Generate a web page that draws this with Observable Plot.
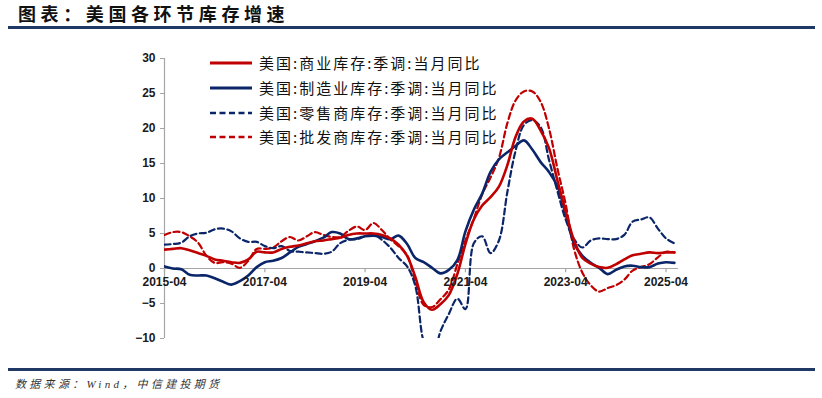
<!DOCTYPE html>
<html><head><meta charset="utf-8">
<script src="https://cdn.jsdelivr.net/npm/d3@7"></script>
<script src="https://cdn.jsdelivr.net/npm/@observablehq/plot@0.6"></script>
<style>
html,body{margin:0;padding:0;background:#fff}
body{width:822px;height:398px;position:relative;overflow:hidden;font-family:"Noto Sans CJK SC",sans-serif}
#chart{position:absolute;left:0;top:0}
#title{position:absolute;left:18px;top:0px;font-size:18px;line-height:26px;letter-spacing:4.6px;font-weight:bold;color:#111}
.rule{position:absolute;left:8px;width:807px;height:3px;background:#1F3864}
#caption{position:absolute;left:15px;top:376px;font-size:11px;line-height:16px;letter-spacing:3.3px;font-style:italic;color:#333;font-family:"Liberation Serif","Noto Sans CJK SC",serif}
#legend{position:absolute;left:210px;top:51px}
.item{display:flex;align-items:center;height:24.7px}
.item svg{width:43px;height:6px;margin-right:6px}
.item span{font-size:15px;letter-spacing:2px;color:#111;line-height:20px}
</style></head>
<body>
<div id="chart"></div>
<div id="title"></div>
<div class="rule" style="top:26px"></div>
<div class="rule" style="top:368px"></div>
<div id="caption"></div>
<div id="legend"></div>
<script>
const titleText = "图表：美国各环节库存增速";
const captionText = "数据来源：Wind，中信建投期货";
const seriesNames = ["美国:商业库存:季调:当月同比","美国:制造业库存:季调:当月同比","美国:零售商库存:季调:当月同比","美国:批发商库存:季调:当月同比"];
const seriesColors = ["#C00000","#0B2569","#0B2569","#C00000"];
const seriesDashed = [false,false,true,true];

const months = ("2015-04 2015-06 2015-08 2015-10 2015-12 " +
 "2016-02 2016-04 2016-06 2016-08 2016-10 2016-12 " +
 "2017-02 2017-04 2017-06 2017-08 2017-10 2017-12 " +
 "2018-02 2018-04 2018-06 2018-08 2018-10 2018-12 " +
 "2019-02 2019-04 2019-06 2019-08 2019-10 2019-12 " +
 "2020-02 2020-04 2020-06 2020-08 2020-10 2020-12 " +
 "2021-02 2021-04 2021-06 2021-08 2021-10 2021-12 " +
 "2022-02 2022-04 2022-06 2022-08 2022-10 2022-12 " +
 "2023-02 2023-04 2023-06 2023-08 2023-10 2023-12 " +
 "2024-02 2024-04 2024-06 2024-08 2024-10 2024-12 " +
 "2025-02 2025-04 2025-06").split(" ");

const commercial = [2.7,2.8,2.9,2.6,2.2,1.8,1.3,1.1,0.9,0.8,1.3,2.4,2.3,2.3,2.8,3.1,3.3,3.6,3.9,4.0,4.2,4.4,4.8,5.0,5.0,5.0,4.8,4.3,3.4,1.8,-1.2,-4.8,-5.9,-5.1,-3.8,-0.8,3.5,7.0,9.0,10.2,11.7,14.8,18.8,21.0,21.4,19.7,17.2,12.5,8.2,4.0,1.5,0.7,0.2,0.1,0.6,1.3,1.9,2.1,2.3,2.2,2.3,2.3];
const manufacturing = [0.3,0.0,-0.1,-0.9,-1.0,-1.0,-1.4,-1.9,-2.3,-1.8,-1.0,0.2,0.9,1.1,1.5,2.3,3.1,3.5,3.9,4.4,5.2,5.0,4.2,4.3,4.6,4.7,4.5,4.2,4.7,3.5,1.5,0.9,0.1,-0.7,-0.2,1.2,5.3,8.4,10.7,13.8,15.6,16.6,17.5,18.3,17.0,15.2,13.8,11.7,7.8,3.6,1.8,0.8,0.1,-0.8,-0.2,0.3,0.4,0.2,0.2,0.7,0.9,0.8];
const retail = [3.4,3.5,3.7,4.6,5.0,5.1,5.6,5.7,5.3,4.3,3.8,3.8,3.2,2.9,3.2,2.5,2.4,2.3,2.2,2.1,2.4,3.6,4.1,4.2,4.6,4.8,4.1,3.0,1.5,0.3,-2.5,-10.5,-13,-9,-6.5,-4.3,-5.8,3.6,4.6,2.2,4.0,11,16.8,20.5,21.2,20.2,15.5,11,7.0,4.2,3.0,4.0,4.3,4.2,4.2,4.8,6.7,7.0,7.3,5.7,4.3,3.6];
const wholesale = [4.8,5.2,5.2,4.6,3.7,1.8,0.8,0.9,0.7,0.1,1.1,2.8,2.8,3.0,3.9,4.5,4.0,4.6,5.2,4.8,4.5,4.5,5.4,6.0,5.5,6.5,5.5,4.2,3.2,1.9,-1.8,-5.2,-5.5,-4.4,-3.0,0.6,4.0,7.1,10.6,13.0,15.8,20.8,24.0,25.3,25.3,23.8,20.0,14.2,9.2,2.8,-0.6,-2.4,-3.3,-2.8,-2.4,-1.6,-0.3,0.2,0.6,1.6,2.4,2.3];

const xTickLabels = ["2015-04","2017-04","2019-04","2021-04","2023-04","2025-04"];
const yTicks = [-10,-5,0,5,10,15,20,25,30];
const xStart = "2015-04", xEnd = "2025-07";

const parse = d3.utcParse("%Y-%m");
const allSeries = [commercial, manufacturing, retail, wholesale];
const tables = allSeries.map(vals => months.map((m,i) => ({date: parse(m), v: vals[i]})));
const xTicks = xTickLabels.map(parse);
const axisColor = "#a6a6a6";

const lineMarks = [3,2,1,0].map(k => Plot.line(tables[k], {
  x: "date", y: "v", stroke: seriesColors[k],
  strokeWidth: seriesDashed[k] ? 2.2 : 2.6,
  strokeDasharray: seriesDashed[k] ? "6,3.5" : null,
  curve: "catmull-rom", clip: true
}));

const chart = Plot.plot({
  width: 822, height: 398,
  marginTop: 58, marginBottom: 60, marginLeft: 164, marginRight: 144,
  x: {type: "utc", domain: [parse(xStart), parse(xEnd)], axis: null},
  y: {domain: [-10, 30], axis: null},
  style: {background: "transparent", fontFamily: "'Liberation Sans', Arial, sans-serif", fontSize: "12px"},
  marks: [
    Plot.ruleY([0], {stroke: axisColor, strokeWidth: 1.2}),
    Plot.ruleX(xTicks, {x: d => d, y1: 0, y2: -0.6, stroke: axisColor, strokeWidth: 1.2}),
    Plot.ruleX([parse(xStart)], {stroke: axisColor, strokeWidth: 1.2}),
    Plot.axisY(yTicks, {anchor: "left", tickSize: 4, tickPadding: 5, stroke: axisColor, fill: "#1a1a1a", fontSize: 12, fontWeight: "bold", label: null}),
    ...lineMarks,
    Plot.text(xTicks, {x: d => d, y: 0, text: (d, i) => xTickLabels[i], dy: 14, fill: "#1a1a1a", fontSize: 12, fontWeight: "bold"})
  ]
});
document.getElementById("chart").appendChild(chart);
document.getElementById("title").textContent = titleText;
document.getElementById("caption").textContent = captionText;

const legend = document.getElementById("legend");
seriesNames.forEach((name, k) => {
  const item = document.createElement("div");
  item.className = "item";
  const dash = seriesDashed[k] ? ' stroke-dasharray="6,3.5"' : '';
  item.innerHTML = `<svg viewBox="0 0 43 6"><line x1="0" y1="3" x2="42" y2="3" stroke="${seriesColors[k]}" stroke-width="${seriesDashed[k] ? 2.4 : 2.8}"${dash}/></svg><span></span>`;
  item.querySelector("span").textContent = name;
  legend.appendChild(item);
});
</script>
</body></html>
